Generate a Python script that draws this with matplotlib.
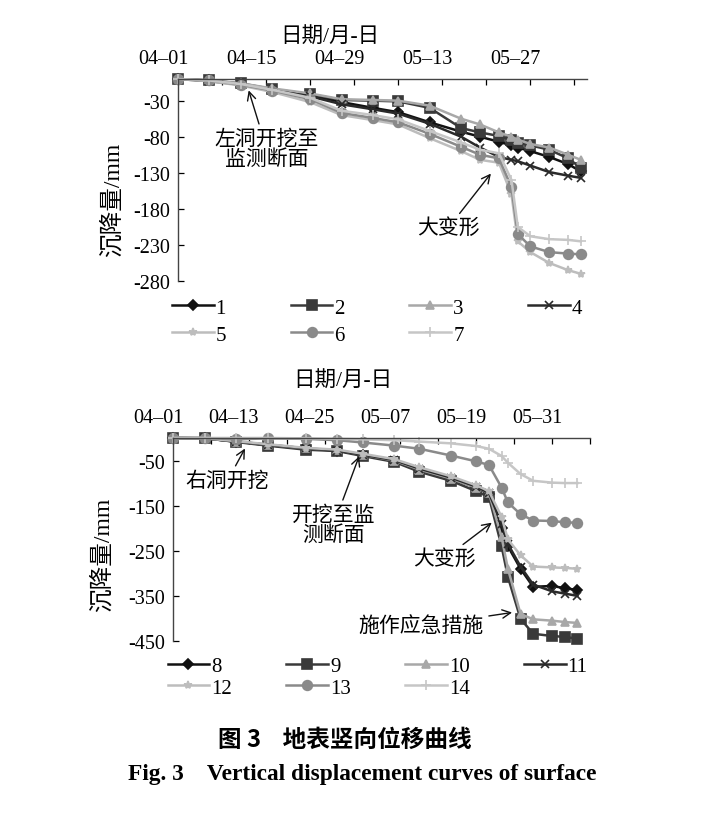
import matplotlib
matplotlib.use("Agg")
import matplotlib.pyplot as plt
import matplotlib.transforms as mtransforms

# ----------------------------------------------------------------------------
# Data (days after 04-01, settlement in mm)
daysTop = [0, 5, 10, 15, 21, 26, 31, 35, 40, 45, 48, 51, 53, 54, 56, 59, 62, 64]
s1 = [0, -2, -7, -15, -22, -32, -40, -46, -60, -73, -80, -87, -92, -95, -100, -108, -118, -128]
s2 = [0, -2, -6, -14, -21, -29, -30, -31, -40, -68, -74, -79, -85, -88, -92, -98, -110, -123]
s3 = [0, -2, -6, -13, -20, -28, -29, -30, -37, -55, -63, -74, -80, -84, -90, -95, -105, -112]
s4 = [0, -3, -8, -16, -24, -35, -42, -48, -62, -80, -95, -108, -112, -114, -120, -129, -134, -137]
s5 = [0, -3, -9, -18, -32, -50, -57, -63, -82, -100, -112, -116, -160, -225, -240, -255, -265, -270]
s6 = [0, -2, -8, -16, -28, -47, -54, -60, -76, -94, -105, -110, -150, -215, -232, -240, -242, -243]
s7 = [0, -2, -7, -15, -26, -44, -50, -56, -72, -88, -98, -103, -140, -205, -218, -222, -223, -225]

daysBot = [0, 5, 10, 15, 21, 26, 30, 35, 39, 44, 48, 50, 52, 53, 55, 57, 60, 62, 64]
s8 = [0, -1, -8, -16, -24, -28, -38, -50, -70, -90, -110, -125, -200, -240, -290, -330, -328, -333, -337]
s9 = [0, 0, -9, -17, -26, -29, -40, -53, -75, -95, -118, -131, -240, -308, -401, -434, -439, -441, -445]
s10 = [0, 0, -8, -15, -23, -27, -37, -50, -70, -90, -110, -122, -220, -290, -390, -402, -405, -408, -410]
s11 = [0, -1, -8, -15, -23, -28, -37, -49, -68, -88, -108, -122, -190, -235, -285, -325, -340, -345, -350]
s12 = [0, -1, -7, -14, -22, -26, -35, -47, -65, -85, -105, -118, -175, -225, -260, -285, -287, -288, -290]
s13 = [0, 0, -3, -1, -2, -5, -10, -17, -24, -39, -52, -60, -110, -143, -169, -183, -184, -187, -188]
s14 = [0, 0, 0, 0, -1, -2, -3, -5, -8, -12, -18, -24, -40, -55, -80, -95, -99, -100, -100]

topTicks = [0, 14, 28, 42, 56]
topLabels = ["04\u201301", "04\u201315", "04\u201329", "05\u201313", "05\u201327"]
botTicks = [0, 12, 24, 36, 48, 60]
botLabels = ["04\u201301", "04\u201313", "04\u201325", "05\u201307", "05\u201319", "05\u201331"]

FONT = ["Liberation Serif", "Noto Sans CJK SC"]

# line styles: color, marker, markersize
styles = [
    ("#111111", "D", 5),
    ("#3a3a3a", "s", 7),
    ("#a8a8a8", "^", 6),
    ("#2a2a2a", "x", 6),
    ("#bdbdbd", "*", 6),
    ("#8a8a8a", "o", 7),
    ("#c6c6c6", "+", 7),
]


# ----------------------------------------------------------------------------
def draw_panel(fig, ax, days, series, names, ticks, labels, minorStep,
               xmax, ymin, yticks, legendXY, colGap, rowGap, titleXY, ylabXY):
    handles = []
    for vals, name, (col, mk, ms) in zip(series, names, styles):
        h, = ax.plot(days, vals, color=col, lw=1.8, marker=mk, ms=ms,
                     mec=col, mfc=col, mew=1.2, label=name, clip_on=False)
        handles.append(h)

    ax.set_xlim(0, xmax)
    ax.set_ylim(ymin, 0)
    ax.xaxis.tick_top()
    ax.set_xticks(ticks)
    ax.set_xticklabels(labels)
    minor = [t for t in range(0, int(xmax) + 1, minorStep) if t not in ticks]
    ax.set_xticks(minor, minor=True)
    ax.set_yticks(yticks)
    ax.tick_params(axis="both", which="both", direction="in", length=4,
                   width=0.9, labelsize=14.5, pad=6)
    ax.tick_params(axis="x", which="both", pad=8)
    for sp in ["bottom", "right"]:
        ax.spines[sp].set_visible(False)
    for sp in ["top", "left"]:
        ax.spines[sp].set_linewidth(1.0)
        ax.spines[sp].set_color("#444444")

    # labels sit slightly left of their ticks, as in the original
    offset = mtransforms.ScaledTranslation(-0.15, 0, fig.dpi_scale_trans)
    for lab in ax.get_xticklabels():
        lab.set_transform(lab.get_transform() + offset)

    ax.set_xlabel("日期/月-日", fontsize=15.5)
    ax.xaxis.set_label_position("top")
    ax.xaxis.set_label_coords(*titleXY)
    ax.xaxis.label.set_va("center")
    ax.set_ylabel("沉降量/mm", fontsize=17)
    ax.yaxis.set_label_coords(*ylabXY)
    ax.yaxis.label.set_va("center")

    # row-wise legend order for 4 columns
    order = [0, 4, 1, 5, 2, 6, 3]
    ax.legend([handles[i] for i in order], [names[i] for i in order],
              ncol=4, loc="upper left", frameon=False, fontsize=15,
              bbox_to_anchor=legendXY, bbox_transform=fig.transFigure,
              handlelength=2.0, handletextpad=0.1, columnspacing=colGap,
              labelspacing=rowGap, borderpad=0)


# ----------------------------------------------------------------------------
def main():
    plt.rcParams["font.family"] = FONT
    plt.rcParams["axes.unicode_minus"] = False

    fig = plt.figure(figsize=(7.08, 8.2), dpi=100)
    axTop = fig.add_axes([0.2514, 0.6561, 0.5777, 0.2463])
    axBot = fig.add_axes([0.2444, 0.2171, 0.5890, 0.2476])

    draw_panel(fig, axTop, daysTop, [s1, s2, s3, s4, s5, s6, s7],
               ["1", "2", "3", "4", "5", "6", "7"], topTicks, topLabels, 7,
               65, -280, [-30, -80, -130, -180, -230, -280],
               (0.228, 0.648), 3.1, 0.35, (0.372, 1.208), (-0.161, 0.406))
    draw_panel(fig, axBot, daysBot, [s8, s9, s10, s11, s12, s13, s14],
               ["8", "9", "10", "11", "12", "13", "14"], botTicks, botLabels, 6,
               66, -450, [-50, -150, -250, -350, -450],
               (0.222, 0.211), 2.6, 0.1, (0.408, 1.281), (-0.170, 0.429))

    arrow = dict(arrowstyle="->", lw=1.0, color="#111111")
    axTop.annotate("左洞开挖至\n监测断面", xy=(11.1, -12), xytext=(14.1, -97),
                   ha="center", va="center", fontsize=15, linespacing=1.0,
                   arrowprops=arrow)
    axTop.annotate("大变形", xy=(50, -128), xytext=(42.9, -207),
                   ha="center", va="center", fontsize=15, arrowprops=arrow)

    axBot.annotate("右洞开挖", xy=(11.6, -18), xytext=(8.6, -95),
                   ha="center", va="center", fontsize=15, arrowprops=arrow)
    axBot.annotate("开挖至监\n测断面", xy=(29.6, -35), xytext=(25.4, -193),
                   ha="center", va="center", fontsize=15, linespacing=1.0,
                   arrowprops=arrow)
    axBot.annotate("大变形", xy=(50.8, -184), xytext=(42.9, -268),
                   ha="center", va="center", fontsize=15, arrowprops=arrow)
    axBot.annotate("施作应急措施", xy=(54.1, -386), xytext=(39.2, -417),
                   ha="center", va="center", fontsize=15, arrowprops=arrow)

    fig.text(345 / 708, 1 - 740 / 820, "图 3    地表竖向位移曲线", ha="center",
             va="center", fontsize=17, fontweight="bold",
             family=["Noto Sans CJK SC"])
    fig.text(362 / 708, 1 - 775 / 820,
             "Fig. 3    Vertical displacement curves of surface",
             ha="center", va="center", fontsize=16.8, fontweight="bold",
             family=["Liberation Serif"])

    fig.savefig("out.png", dpi=100)


# ----------------------------------------------------------------------------
if __name__ == "__main__":
    main()
